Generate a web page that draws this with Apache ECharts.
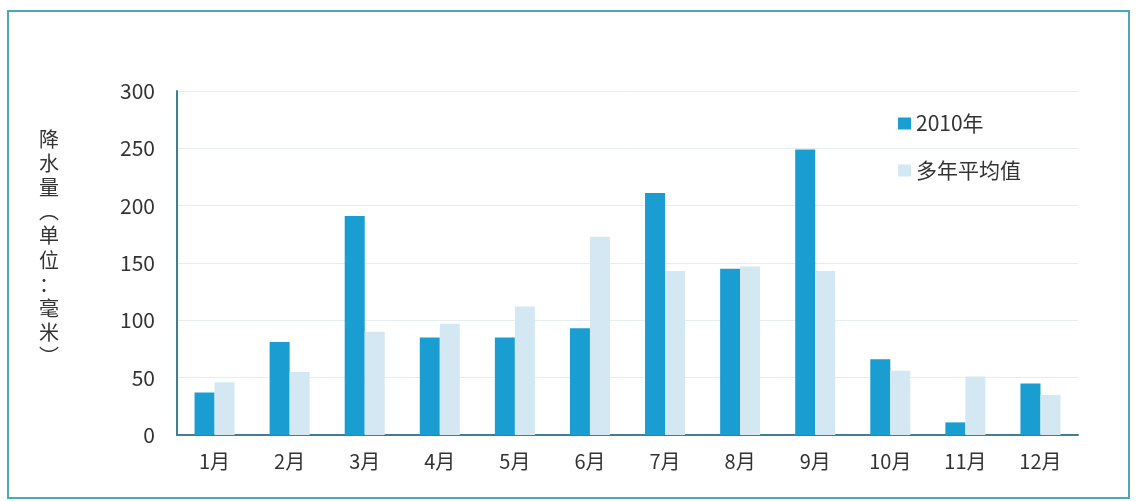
<!DOCTYPE html>
<html>
<head>
<meta charset="utf-8">
<style>
    html,body{margin:0;padding:0;background:#fff;}
    #main{width:1136px;height:502px;}
</style>
<script src="https://cdn.jsdelivr.net/npm/echarts@6/dist/echarts.min.js"></script>
</head>
<body>
<div id="main"></div>
<script>
    // 月份
    var months = ['1月','2月','3月','4月','5月','6月','7月','8月','9月','10月','11月','12月'];
    // 2010年降水量
    var rain2010 = [37, 81, 191, 85, 85, 93, 211, 145, 249, 66, 11, 45];
    // 多年平均值
    var rainAvg = [46, 55, 90, 97, 112, 173, 143, 147, 143, 56, 51, 35];
    var seriesNames = ['2010年', '多年平均值'];
    var yName = ['降','水','量','︵','单','位','：','毫','米','︶'];

    var chart = echarts.init(document.getElementById('main'));
    var fontFamily = '"Noto Sans CJK SC", "Liberation Sans", sans-serif';
    var narrowFont = '"Liberation Sans Narrow", "Noto Sans CJK SC", sans-serif';
    var option = {
        animation: false,
        textStyle: {fontFamily: fontFamily},
        graphic: [{
            type: 'rect',
            shape: {x: 8, y: 11, width: 1121, height: 487},
            style: {fill: 'none', stroke: '#4fa5ba', lineWidth: 2}
        }, {
            type: 'text',
            left: 39,
            top: 127,
            style: {
                text: yName.join('\n'),
                fontSize: 20,
                lineHeight: 24.2,
                fill: '#333',
                align: 'center',
                fontFamily: fontFamily
            }
        }],
        legend: {
            orient: 'vertical',
            left: 893,
            top: 108,
            itemWidth: 13,
            itemHeight: 12,
            itemGap: 26,
            icon: 'rect',
            textStyle: {fontSize: 21, color: '#333', fontFamily: narrowFont},
            data: seriesNames
        },
        grid: {left: 177, right: 58, top: 91, bottom: 67},
        xAxis: {
            type: 'category',
            data: months,
            axisLine: {lineStyle: {color: '#3f7f8f', width: 2}},
            axisTick: {show: false},
            axisLabel: {fontSize: 20, color: '#333', margin: 16, fontFamily: narrowFont}
        },
        yAxis: {
            type: 'value',
            min: 0,
            max: 300,
            interval: 50,
            axisLine: {show: true, lineStyle: {color: '#3f7f8f', width: 2}},
            axisTick: {show: false},
            axisLabel: {fontSize: 21, color: '#333', margin: 22, fontFamily: narrowFont},
            splitLine: {lineStyle: {color: '#e6edef', width: 1}}
        },
        series: [{
            name: seriesNames[0],
            type: 'bar',
            data: rain2010,
            barWidth: 20,
            barGap: '0%',
            itemStyle: {color: '#1a9dd0'}
        }, {
            name: seriesNames[1],
            type: 'bar',
            data: rainAvg,
            barWidth: 20,
            itemStyle: {color: '#d3e8f2'}
        }]
    };
    chart.setOption(option);
</script>
</body>
</html>
